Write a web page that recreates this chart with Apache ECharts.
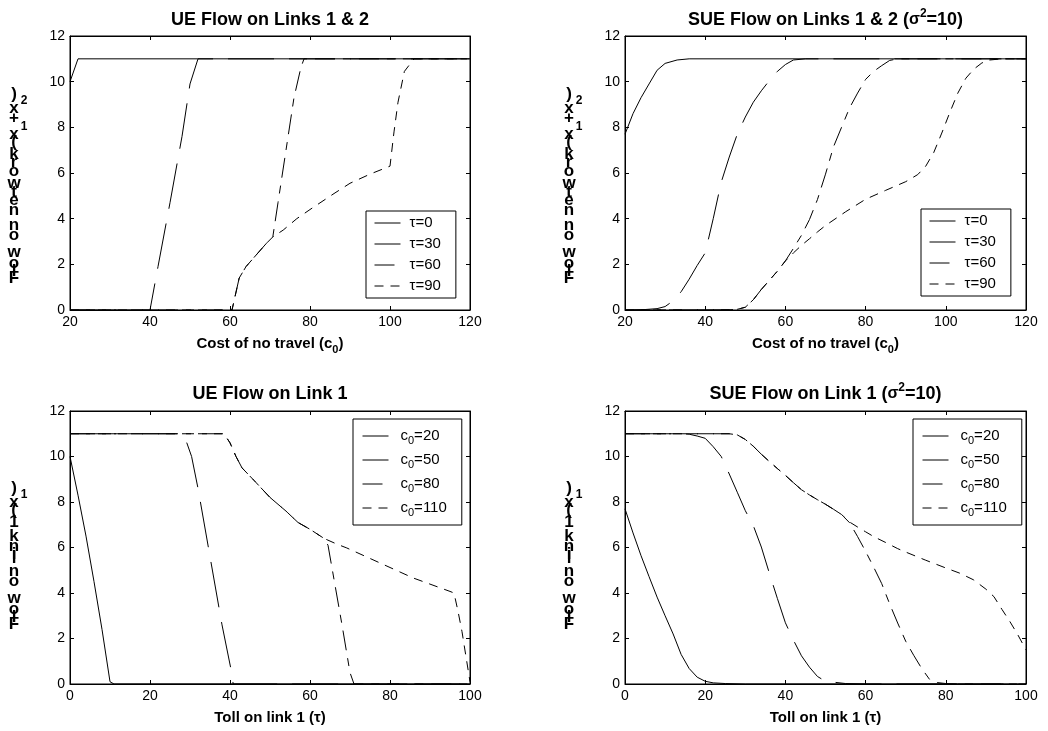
<!DOCTYPE html>
<html><head><meta charset="utf-8">
<script src="https://cdn.jsdelivr.net/npm/echarts@6/dist/echarts.min.js"></script>
<style>html,body{margin:0;padding:0;background:#fff}#c{width:1048px;height:731px}</style>
</head><body><div id="c"></div>
<script>
// ---------------- data ----------------
const tauNames = ['τ=0', 'τ=30', 'τ=60', 'τ=90'];
const c0Names = ['c0=20', 'c0=50', 'c0=80', 'c0=110'];
const costTicks = { min: 20, max: 120, interval: 20 };
const tollTicks = { min: 0, max: 100, interval: 20 };
const flowTicks = { min: 0, max: 12, interval: 2 };

// UE flow on links 1 & 2 vs cost of no travel
const ueTau0 = [[20,10],[22,11],[120,11]];
const ueTau30 = [[20,0],[40,0],[42,1.9],[45,4.7],[48,7.6],[50,9.9],[52,11],[120,11]];
const ueTau60 = [[20,0],[60.5,0],[62.3,1.4],[64,1.9],[66,2.3],[69,2.9],[70.7,3.2],[72,4.7],[74,7.0],[76,9.3],[77.7,10.6],[78.5,11],[120,11]];
const ueTau90 = [[20,0],[60.5,0],[62.3,1.4],[64,1.9],[66,2.3],[69,2.9],[70.7,3.2],[73.3,3.5],[76.7,4.0],[80,4.4],[83,4.75],[86,5.1],[90,5.55],[95,5.95],[100,6.3],[101,7.8],[102,9.1],[103.6,10.45],[106,11],[120,11]];

// SUE flow on links 1 & 2 vs cost of no travel
const sueTau0 = [[20,7.7],[22,8.6],[24,9.3],[26,9.9],[28,10.5],[30,10.8],[33,10.95],[36,11],[120,11]];
const sueTau30 = [[20,0],[25,0.02],[28,0.06],[30,0.15],[32,0.4],[34,0.8],[36,1.35],[38,1.95],[40,2.5],[42,4.0],[44,5.6],[46,6.7],[48,7.7],[50,8.45],[52,9.1],[54,9.6],[56,10.05],[58,10.45],[60,10.75],[62,10.95],[65,11],[120,11]];
const sueTau60 = [[20,0],[46,0.01],[48,0.03],[50,0.12],[52,0.45],[54,0.9],[56,1.3],[58,1.7],[60,2.15],[62,2.7],[64,3.27],[66,3.96],[68,4.84],[70,5.95],[72,7.15],[74,8.0],[76,8.85],[78,9.5],[80,10.1],[82,10.45],[84,10.7],[86,10.93],[88,11],[120,11]];
const sueTau90 = [[20,0],[46,0.01],[48,0.03],[50,0.12],[52,0.45],[54,0.9],[56,1.3],[58,1.7],[60,2.15],[62,2.5],[64,2.83],[66,3.12],[68,3.42],[70,3.7],[75,4.3],[80,4.85],[85,5.24],[90,5.62],[93,5.93],[95,6.3],[97,6.9],[99,7.75],[101,8.65],[103,9.5],[105,10.15],[107,10.55],[109,10.82],[111,10.95],[114,11],[120,11]];

// UE flow on link 1 vs toll
const ueC20 = [[0,10],[2,8.3],[4,6.5],[6,4.5],[8,2.4],[10,0.1],[11,0],[100,0]];
const ueC50 = [[0,11],[28,11],[29.2,10.6],[30.4,10],[32,8.6],[35,5.6],[38,2.6],[40.3,0.6],[40.8,0],[100,0]];
const ueC80 = [[0,11],[38.5,11],[40,10.6],[41.5,10],[43,9.5],[46,8.95],[50,8.2],[54,7.6],[57,7.1],[60,6.8],[63.5,6.4],[64.5,6.1],[66,4.6],[68,2.6],[70,0.5],[71,0],[100,0]];
const ueC110 = [[0,11],[38.5,11],[40,10.6],[41.5,10],[43,9.5],[46,8.95],[50,8.2],[54,7.6],[57,7.1],[60,6.8],[63.5,6.4],[66.7,6.15],[69.2,5.98],[77.5,5.32],[85.8,4.66],[95,4.07],[96,4.0],[97,3.2],[98,2.3],[99,1.2],[100,0.1]];

// SUE flow on link 1 vs toll
const sueC20 = [[0,7.7],[2,6.64],[4,5.64],[6,4.72],[8,3.82],[10,3.0],[12,2.2],[14,1.3],[16,0.68],[18,0.3],[20,0.12],[22,0.05],[25,0.02],[30,0],[100,0]];
const sueC50 = [[0,11],[14,11],[16,10.98],[18,10.9],[20,10.8],[22,10.43],[24,10.0],[26,9.23],[28,8.43],[30,7.62],[32,6.96],[34,6.02],[36,4.87],[38,3.76],[40,2.69],[42,1.93],[44,1.24],[46,0.74],[48,0.33],[50,0.12],[55,0.02],[60,0],[100,0]];
const sueC80 = [[0,11],[26,11],[28,10.95],[30,10.75],[32,10.45],[34,10.1],[36,9.78],[38,9.47],[40,9.17],[42,8.85],[44,8.54],[46,8.31],[48,8.1],[50,7.9],[52,7.68],[54,7.45],[56,7.09],[58,6.48],[60,5.83],[62,5.14],[64,4.42],[66,3.52],[68,2.68],[70,1.88],[72,1.26],[74,0.68],[76,0.19],[78,0.06],[80,0.02],[85,0],[100,0]];
const sueC110 = [[0,11],[26,11],[28,10.95],[30,10.75],[32,10.45],[34,10.1],[36,9.78],[38,9.47],[40,9.17],[42,8.85],[44,8.54],[46,8.31],[48,8.1],[50,7.9],[52,7.68],[54,7.45],[56,7.12],[58,6.9],[60,6.69],[62,6.48],[65,6.22],[68,5.95],[70,5.8],[75,5.44],[80,5.1],[83.5,4.87],[86.9,4.58],[90,4.17],[92,3.84],[94,3.28],[96,2.74],[98,2.15],[100,1.5]];

const titles = ['UE Flow on Links 1 & 2', 'SUE Flow on Links 1 & 2 ({s|σ}{sup|2}=10)', 'UE Flow on Link 1', 'SUE Flow on Link 1 ({s|σ}{sup|2}=10)'];
const xNames = ['Cost of no travel (c{sub|0})', 'Cost of no travel (c{sub|0})', 'Toll on link 1 (τ)', 'Toll on link 1 (τ)'];
const yLabelTop = [['Flow on network (x', 0], ['1', 1], ['+x', 0], ['2', 1], [')', 0]];
const yLabelBottom = [['Flow on link 1 (x', 0], ['1', 1], [')', 0]];

// ---------------- layout / style ----------------
const FONT = '"Liberation Sans", Arial, Helvetica, sans-serif';
const grids = [
  { left: 70, top: 36, width: 400, height: 274 },
  { left: 625, top: 36, width: 401, height: 274 },
  { left: 70, top: 411, width: 400, height: 273 },
  { left: 625, top: 411, width: 401, height: 273 }
];
const dashes = ['solid', [46, 15], [20, 8, 8, 8], [9, 7]];
const seriesSets = [
  [ueTau0, ueTau30, ueTau60, ueTau90],
  [sueTau0, sueTau30, sueTau60, sueTau90],
  [ueC20, ueC50, ueC80, ueC110],
  [sueC20, sueC50, sueC80, sueC110]
];
const legendPos = [
  { left: 366, top: 211, names: tauNames },
  { left: 921, top: 209, names: tauNames },
  { left: 353, top: 419, names: c0Names },
  { left: 913, top: 419, names: c0Names }
];

const option = {
  animation: false,
  backgroundColor: '#fff',
  title: [], grid: [], xAxis: [], yAxis: [], series: [], legend: [], graphic: []
};

const richDefs = {
  sup: { fontSize: 12, fontWeight: 'bold', fontFamily: FONT, color: '#000', verticalAlign: 'top', lineHeight: 12 },
  s: { fontSize: 16, fontWeight: 'bold', fontFamily: FONT, color: '#000', lineHeight: 24 },
  sub: { fontSize: 11, fontWeight: 'bold', fontFamily: FONT, color: '#000', verticalAlign: 'bottom', lineHeight: 11 }
};

grids.forEach((g, i) => {
  option.grid.push(Object.assign({ show: true, borderColor: '#000', borderWidth: 1, backgroundColor: '#fff' }, g));
  const xt = i < 2 ? costTicks : tollTicks;
  const tick = { show: true, inside: true, length: 4, lineStyle: { color: '#000' } };
  const line = { show: true, onZero: false, lineStyle: { color: '#000', width: 1 } };
  option.xAxis.push({
    type: 'value', gridIndex: i, position: 'bottom', min: xt.min, max: xt.max, interval: xt.interval,
    axisLine: line, axisTick: tick, splitLine: { show: false },
    axisLabel: { color: '#000', fontSize: 14, fontFamily: FONT, margin: 5 },
    name: xNames[i], nameLocation: 'middle', nameGap: 23,
    nameTextStyle: { color: '#000', fontSize: 15, fontWeight: 'bold', fontFamily: FONT, lineHeight: 22,
      rich: { sub: { fontSize: 11, fontWeight: 'bold', fontFamily: FONT, color: '#000', verticalAlign: 'bottom', lineHeight: 11 } } }
  });
  option.xAxis.push({
    type: 'value', gridIndex: i, position: 'top', min: xt.min, max: xt.max, interval: xt.interval,
    axisLine: line, axisTick: tick, splitLine: { show: false }, axisLabel: { show: false }
  });
  option.yAxis.push({
    type: 'value', gridIndex: i, position: 'left', min: flowTicks.min, max: flowTicks.max, interval: flowTicks.interval,
    axisLine: line, axisTick: tick, splitLine: { show: false },
    axisLabel: { color: '#000', fontSize: 14, fontFamily: FONT, margin: 5 }
  });
  option.yAxis.push({
    type: 'value', gridIndex: i, position: 'right', min: flowTicks.min, max: flowTicks.max, interval: flowTicks.interval,
    axisLine: line, axisTick: tick, splitLine: { show: false }, axisLabel: { show: false }
  });
  option.title.push({
    text: titles[i], left: g.left + g.width / 2, top: i < 2 ? 8 : 382, textAlign: 'center', padding: 0,
    textStyle: { color: '#000', fontSize: 18, fontWeight: 'bold', fontFamily: FONT, lineHeight: 24, rich: richDefs }
  });
  const names = legendPos[i].names;
  seriesSets[i].forEach((d, k) => {
    option.series.push({
      type: 'line', name: names[k], data: d, xAxisIndex: 2 * i, yAxisIndex: 2 * i,
      symbol: 'none', silent: true, z: 10 - k,
      lineStyle: { color: '#000', width: 1, type: dashes[k] }, itemStyle: { color: '#000' }
    });
  });
  const isC = i >= 2;
  option.legend.push({
    left: legendPos[i].left, top: legendPos[i].top, orient: 'vertical', data: names,
    itemWidth: 26, itemHeight: isC ? 20 : 16, itemGap: isC ? 4 : 5,
    padding: isC ? [7, 15, 7, 9] : [4, 15, 4, 8],
    borderColor: '#000', borderWidth: 1, backgroundColor: '#fff', selectedMode: false,
    itemStyle: { opacity: 0, color: 'transparent', borderWidth: 0 },
    lineStyle: { opacity: 1, color: '#000', width: 1 },
    formatter: n => n.replace('c0', 'c{sub|0}'),
    textStyle: { color: '#000', fontSize: 15, fontFamily: FONT, lineHeight: isC ? 20 : 16, padding: [0, 0, 0, isC ? 7 : 4],
      rich: { sub: { fontSize: 11, fontFamily: FONT, color: '#000', verticalAlign: 'bottom', lineHeight: 11 } } }
  });
});

// stacked (glyph-by-glyph) vertical y-axis labels, as in the reference
const ctx = document.createElement('canvas').getContext('2d');
function stacked(parts, cx, bottomY) {
  const els = [];
  let y = bottomY;
  parts.forEach(([str, sub]) => {
    const fs = sub ? 12 : 17;
    const font = 'bold ' + fs + 'px ' + FONT;
    ctx.font = font;
    for (const ch of str) {
      const w = ctx.measureText(ch).width;
      if (ch !== ' ') {
        els.push({ type: 'text', x: sub ? cx + 10 : cx, y: y - w / 2, silent: true,
          style: { text: ch, font: font, fill: '#000', align: 'center', verticalAlign: 'middle' } });
      }
      y -= w;
    }
  });
  return els;
}
option.graphic = [].concat(
  stacked(yLabelTop, 14, 284),
  stacked(yLabelTop, 569, 284),
  stacked(yLabelBottom, 14, 630),
  stacked(yLabelBottom, 569, 630)
);

const chart = echarts.init(document.getElementById('c'), null, { renderer: 'canvas' });
chart.setOption(option);
</script>
</body></html>
